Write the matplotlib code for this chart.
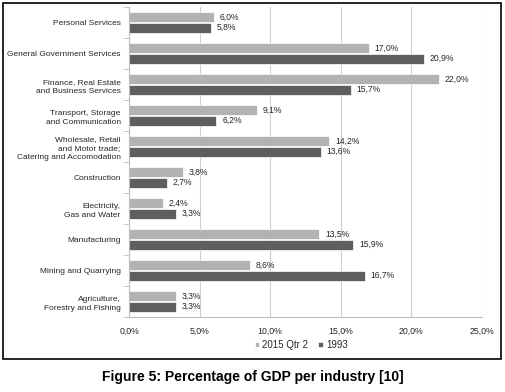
import numpy as np
import matplotlib.pyplot as plt
from matplotlib.patches import Rectangle

plt.rcParams['font.family'] = ['Liberation Sans', 'DejaVu Sans']

categories = ['Personal Services', 'General Government Services',
              'Finance, Real Estate\nand Business Services',
              'Transport, Storage\nand Communication',
              'Wholesale, Retail\nand Motor trade;\nCatering and Accomodation',
              'Construction', 'Electricity,\nGas and Water', 'Manufacturing',
              'Mining and Quarrying', 'Agriculture,\nForestry and Fishing']
q2_2015 = [6.0, 17.0, 22.0, 9.1, 14.2, 3.8, 2.4, 13.5, 8.6, 3.3]
y1993 = [5.8, 20.9, 15.7, 6.2, 13.6, 2.7, 3.3, 15.9, 16.7, 3.3]
xticks = [0, 5, 10, 15, 20, 25]

light = '#b2b2b2'
dark = '#5e5e5e'
txt = '#262626'

fig = plt.figure(figsize=(5.06, 3.92), dpi=100)
ax = fig.add_axes([0.255, 0.191, 0.697, 0.791])

n = len(categories)
pos = np.arange(n)
h = 0.33
ax.barh(pos - h / 2 - 0.01, q2_2015, height=h, color=light, edgecolor='white', linewidth=0.5, label='2015 Qtr 2')
ax.barh(pos + h / 2 + 0.01, y1993, height=h, color=dark, edgecolor='white', linewidth=0.5, label='1993')

for i in range(n):
    ax.text(q2_2015[i] + 0.4, pos[i] - h / 2, ('%.1f%%' % q2_2015[i]).replace('.', ','),
            va='center', ha='left', fontsize=6.2, color=txt)
    ax.text(y1993[i] + 0.4, pos[i] + h / 2, ('%.1f%%' % y1993[i]).replace('.', ','),
            va='center', ha='left', fontsize=6.2, color=txt)

ax.set_ylim(n - 0.5, -0.5)
ax.set_xlim(0, 25)
ax.set_yticks(pos)
ax.set_yticklabels(categories, fontsize=6.0, color=txt, linespacing=1.4)
ax.set_yticks(np.arange(n + 1) - 0.5, minor=True)
ax.tick_params(axis='y', which='major', length=0, pad=6)
ax.tick_params(axis='y', which='minor', length=4, color='#bdbdbd', direction='out')
ax.set_xticks(xticks)
ax.set_xticklabels([('%.1f%%' % v).replace('.', ',') for v in xticks], fontsize=6.3, color=txt)
ax.tick_params(axis='x', length=0, pad=7)
ax.grid(axis='x', color='#cfcfcf', linewidth=0.8)
ax.set_axisbelow(True)
for s in ['top', 'right']:
    ax.spines[s].set_visible(False)
for s in ['left', 'bottom']:
    ax.spines[s].set_color('#bdbdbd')
    ax.spines[s].set_linewidth(0.8)

leg = fig.legend(loc='center', bbox_to_anchor=(0.595, 0.12), ncol=2, frameon=False,
                 fontsize=7, handlelength=0.5, handleheight=0.5, handletextpad=0.3,
                 columnspacing=1.0)
for t in leg.get_texts():
    t.set_color(txt)

fig.patches.append(Rectangle((0.006, 0.085), 0.984, 0.907, transform=fig.transFigure,
                             fill=False, edgecolor='black', linewidth=1.2))

fig.text(0.5, 0.038, 'Figure 5: Percentage of GDP per industry [10]', ha='center', va='center',
         fontsize=10, fontweight='bold', color='black')

fig.savefig('out.png', dpi=100)
